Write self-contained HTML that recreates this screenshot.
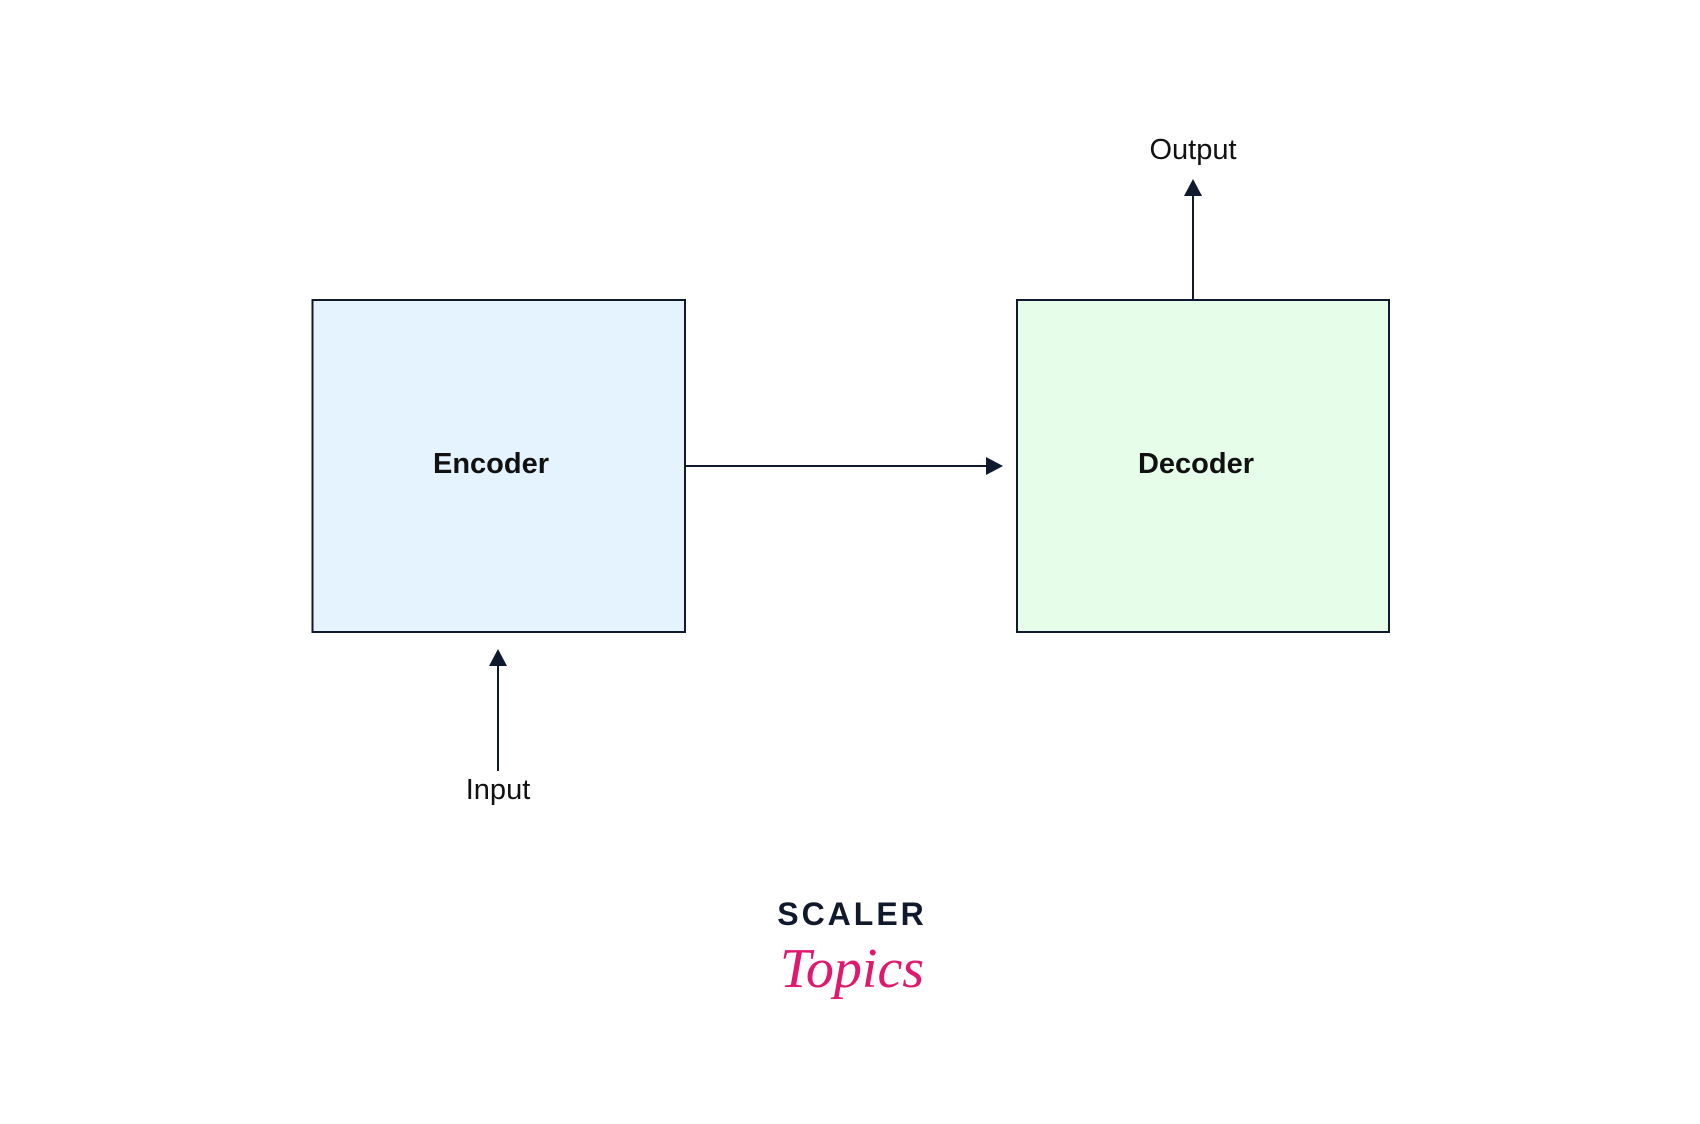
<!DOCTYPE html>
<html><head><style>
body{margin:0;background:#fff;width:1700px;height:1119px;overflow:hidden}
</style></head><body>
<svg width="1700" height="1119" xmlns="http://www.w3.org/2000/svg" font-family="Liberation Sans, sans-serif">
<rect x="312.5" y="300" width="372.5" height="332" fill="#e5f3ff" stroke="#0f1a2e" stroke-width="2"/>
<rect x="1017" y="300" width="372" height="332" fill="#e6fde9" stroke="#0f1a2e" stroke-width="2"/>
<text x="491" y="473" font-size="29" font-weight="bold" text-anchor="middle" fill="#111">Encoder</text>
<text x="1196" y="473" font-size="29" font-weight="bold" text-anchor="middle" fill="#111">Decoder</text>
<line x1="685" y1="466" x2="990" y2="466" stroke="#0f1a2e" stroke-width="2"/>
<polygon points="986,457 1003,466 986,475" fill="#0f1a2e"/>
<line x1="1193" y1="300" x2="1193" y2="194" stroke="#0f1a2e" stroke-width="2"/>
<polygon points="1184,196 1193,179 1202,196" fill="#0f1a2e"/>
<line x1="498" y1="771" x2="498" y2="665" stroke="#0f1a2e" stroke-width="2"/>
<polygon points="489,666 498,649 507,666" fill="#0f1a2e"/>
<text x="1193" y="159" font-size="29" text-anchor="middle" fill="#111">Output</text>
<text x="498" y="799" font-size="29" text-anchor="middle" fill="#111">Input</text>
<text x="852" y="925" font-size="32" font-weight="bold" letter-spacing="3" text-anchor="middle" fill="#111a2c">SCALER</text>
<text x="852" y="987" font-size="56" font-style="italic" font-family="Liberation Serif, serif" text-anchor="middle" fill="#e0196f">Topics</text>
</svg>
</body></html>
